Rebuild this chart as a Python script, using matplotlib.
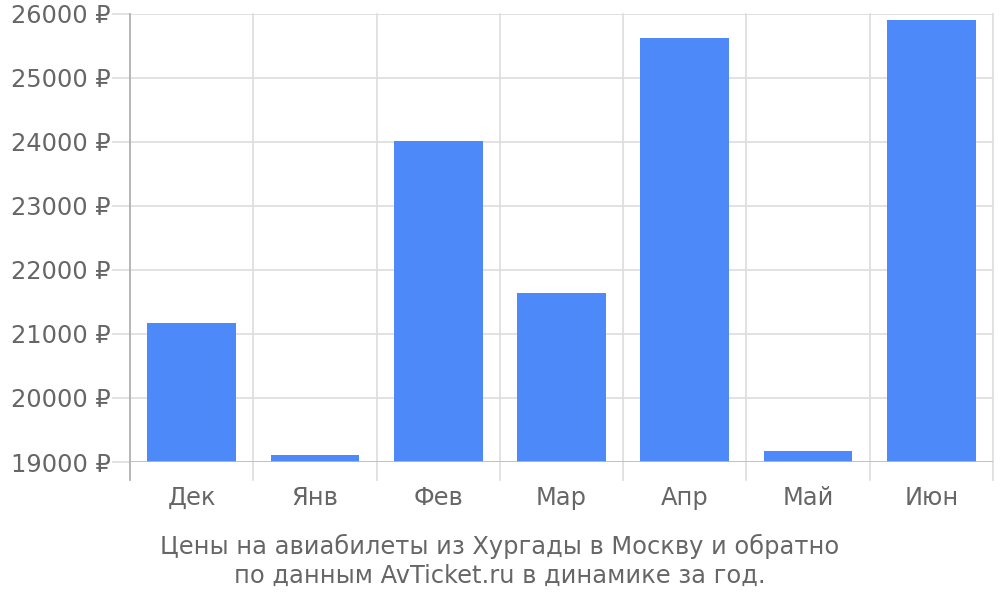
import matplotlib
matplotlib.use("Agg")
import matplotlib.pyplot as plt

# --- data ---------------------------------------------------------------
months = ["Дек", "Янв", "Фев", "Мар", "Апр", "Май", "Июн"]
prices = [21170, 19110, 24020, 21640, 25630, 19170, 25900]
y_ticks = [19000, 20000, 21000, 22000, 23000, 24000, 25000, 26000]

BAR_COLOR = "#4e89f9"
TEXT_COLOR = "#666666"
GRID_COLOR = "#dddddd"
FS = 17.4

plt.rcParams["font.family"] = ["DejaVu Sans"]

fig = plt.figure(figsize=(10, 6), dpi=100)
ax = fig.add_axes([0.13, 0.23, 0.863, 0.7467])

base = y_ticks[0]
x = list(range(len(months)))
ax.bar(x, [p - base for p in prices], bottom=base, width=0.72,
       color=BAR_COLOR, zorder=3)

ax.set_xlim(-0.5, len(months) - 0.5)
ax.set_ylim(y_ticks[0], y_ticks[-1])

# horizontal grid + long gray ticks reaching to the labels
ax.set_yticks(y_ticks)
ax.set_yticklabels([f"{v} ₽" for v in y_ticks])
ax.yaxis.grid(True, color=GRID_COLOR, linewidth=1.2, zorder=0)
ax.tick_params(axis="y", length=13, width=1.2, color=GRID_COLOR, pad=1,
               labelsize=FS, labelcolor=TEXT_COLOR)

# category labels, no tick marks
ax.set_xticks(x)
ax.set_xticklabels(months)
ax.tick_params(axis="x", length=0, pad=17, labelsize=FS,
               labelcolor=TEXT_COLOR)

for s in ax.spines.values():
    s.set_visible(False)

# vertical separators between categories, running below the axis
trans = ax.get_xaxis_transform()
for i in range(len(months) + 1):
    xb = i - 0.5
    col = "#aaaaaa" if i == 0 else GRID_COLOR
    ax.plot([xb, xb], [-0.04, 1.0], transform=trans, color=col,
            linewidth=1.2, clip_on=False, zorder=1 if i else 4)

# baseline
ax.axhline(base, color="#bbbbbb", linewidth=1.2, zorder=4)

fig.text(0.5, 0.065, "Цены на авиабилеты из Хургады в Москву и обратно\n"
         "по данным AvTicket.ru в динамике за год.",
         ha="center", va="center", fontsize=FS, color=TEXT_COLOR,
         linespacing=1.22)

fig.savefig("out.png", dpi=100)
